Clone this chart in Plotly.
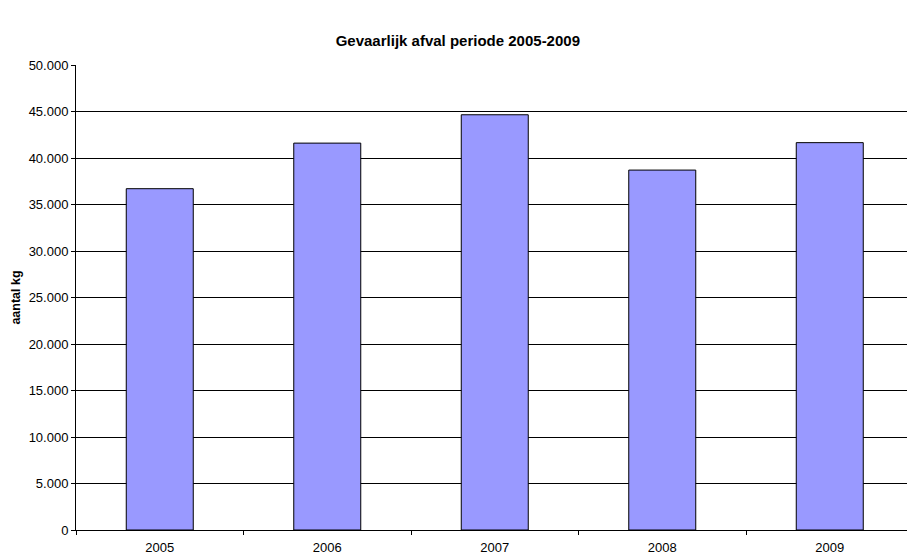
import plotly.graph_objects as go

years = ["2005", "2006", "2007", "2008", "2009"]
values = [36700, 41600, 44650, 38700, 41650]
y_ticks = [0, 5000, 10000, 15000, 20000, 25000, 30000, 35000, 40000, 45000, 50000]

W, H = 907, 554
left, right_px = 76.3, 907
fig = go.Figure()
fig.add_trace(go.Bar(
    x=years, y=values, width=0.4,
    marker=dict(color="#9999FF", line=dict(color="black", width=1)),
))

fig.update_layout(
    width=W, height=H,
    margin=dict(l=left, r=0, t=65.3, b=23.7, pad=0),
    paper_bgcolor="white", plot_bgcolor="white",
    separators=",.",
    showlegend=False,
    font=dict(family="Liberation Sans, Arial, sans-serif", size=13, color="black"),
    title=dict(text="<b>Gevaarlijk afval periode 2005-2009</b>",
               x=(458 - left) / (right_px - left), xref="paper", xanchor="center",
               y=1 - 41 / H, yref="container", yanchor="middle",
               font=dict(size=15, color="black")),
)
fig.update_xaxes(
    type="category", range=[-0.5, 4.5 - 6.5 / 167.4],
    showline=True, linecolor="black", linewidth=1,
    ticks="outside", tickson="boundaries", ticklen=4, tickcolor="black",
    showgrid=False, tickfont=dict(size=13), ticklabelstandoff=5,
)
fig.update_yaxes(
    range=[0, 50000], tickvals=y_ticks, tickformat=",d",
    showline=True, linecolor="black", linewidth=1,
    ticks="outside", ticklen=4, tickcolor="black",
    showgrid=True, gridcolor="black", gridwidth=1,
    zeroline=False, tickfont=dict(size=13),
    title=dict(text="<b>aantal kg</b>", font=dict(size=12.5), standoff=5),
)
fig.write_html("out.html", config={"displayModeBar": False},
               post_script="document.body.style.margin='0';document.body.style.overflow='hidden';")
